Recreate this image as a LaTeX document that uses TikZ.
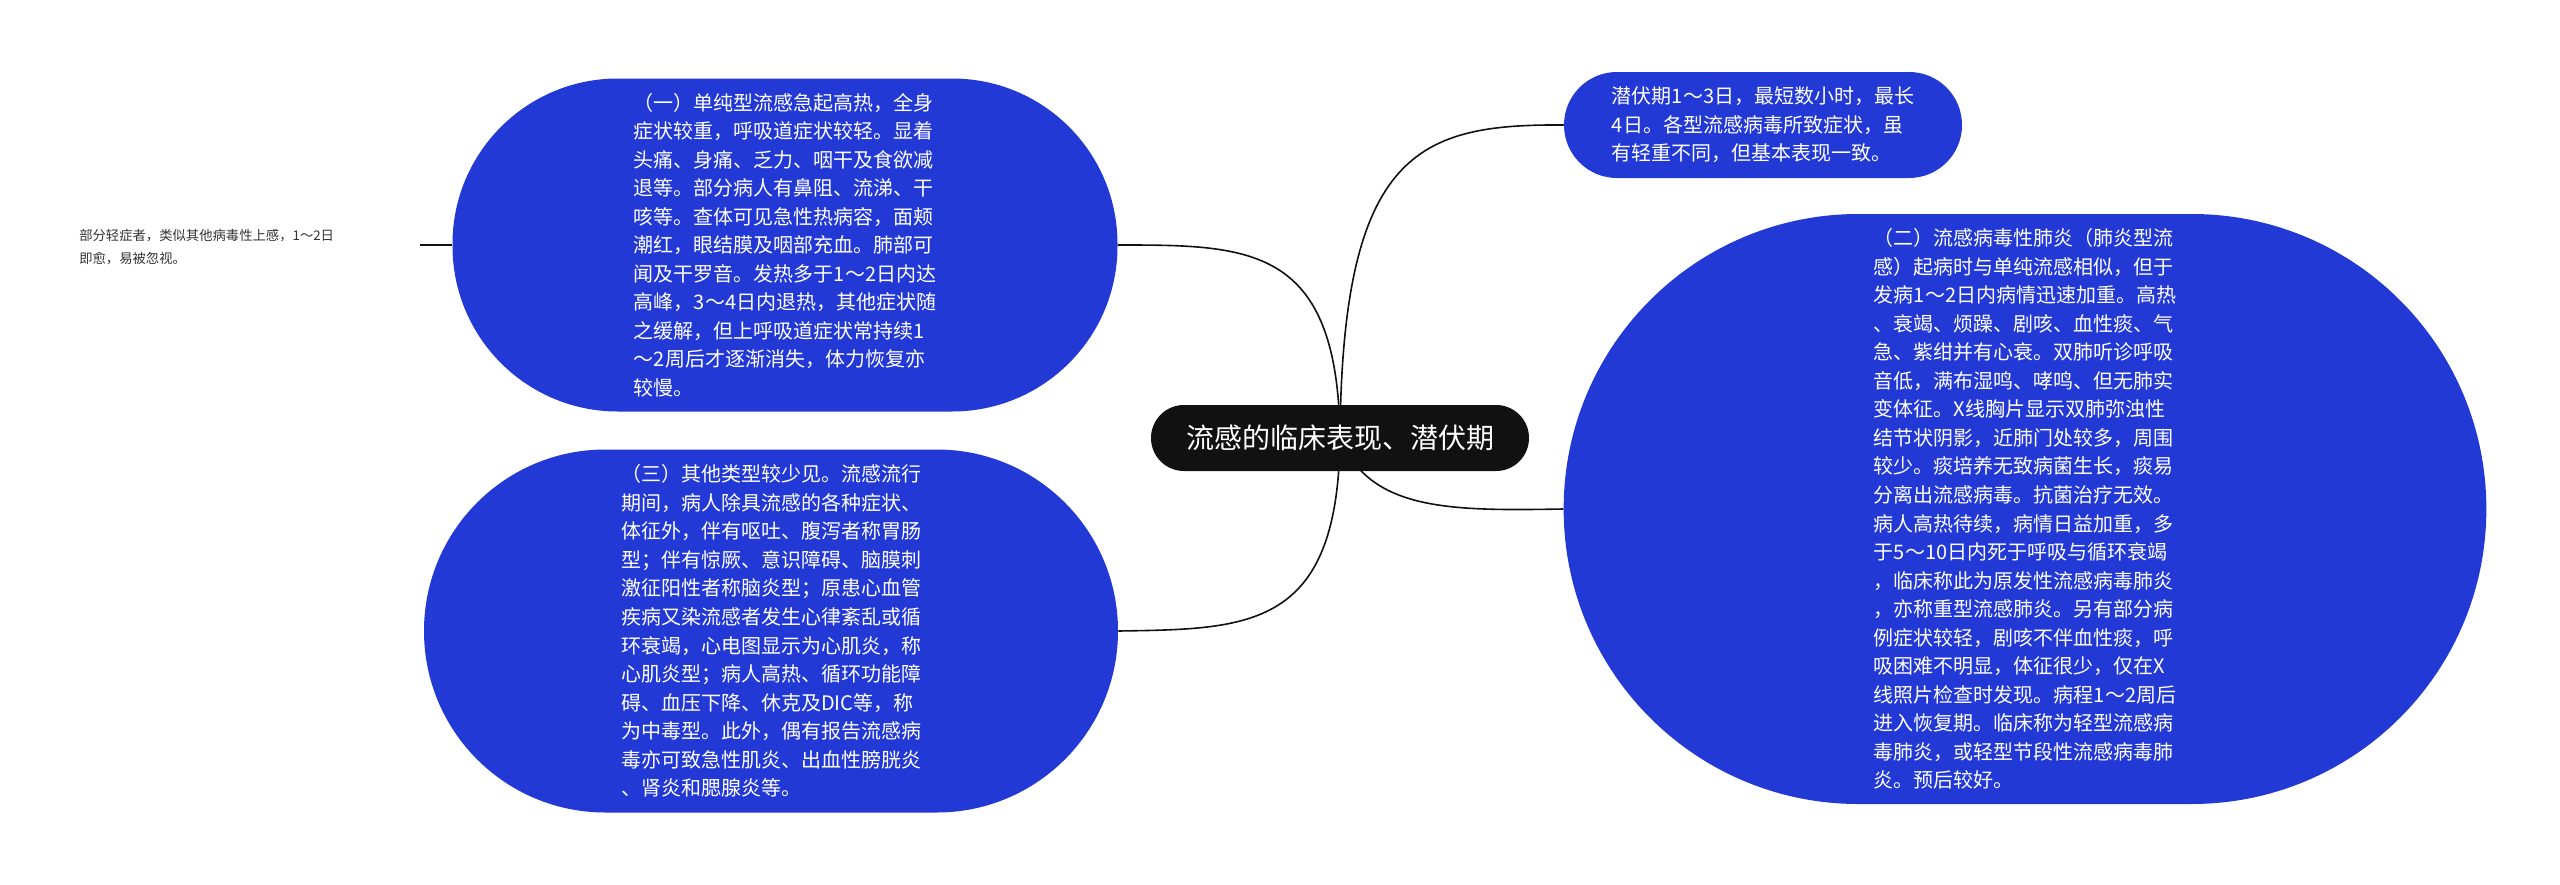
\documentclass[tikz,border=0pt]{standalone}
\usepackage{fontspec}
\setmainfont{Noto Sans CJK SC}
\usetikzlibrary{backgrounds}
\definecolor{nodeblue}{HTML}{2339D6}
\definecolor{dark}{HTML}{111111}
\definecolor{leafgray}{HTML}{333333}
\begin{document}
\begin{tikzpicture}[x=0.75pt,y=-0.75pt,
  blob/.style={fill=nodeblue,text=white,align=left,inner sep=0pt,font=\fontsize{15pt}{21.4pt}\selectfont},
  root/.style={fill=dark,text=white,inner sep=0pt,minimum width=283.5pt,minimum height=49.5pt,rounded corners=24.7pt,font=\fontsize{21pt}{25pt}\selectfont},
  link/.style={draw=dark,line width=1.2pt}]
\useasboundingbox (0,0) rectangle (2560,885);
\node[root] (c) at (1340,438) {流感的临床表现、潜伏期};
\node[blob,minimum width=498.75pt,minimum height=249.75pt,rounded corners=124pt] (a) at (785,245) {（一）单纯型流感急起高热，全身\\症状较重，呼吸道症状较轻。显着\\头痛、身痛、乏力、咽干及食欲减\\退等。部分病人有鼻阻、流涕、干\\咳等。查体可见急性热病容，面颊\\潮红，眼结膜及咽部充血。肺部可\\闻及干罗音。发热多于1～2日内达\\高峰，3～4日内退热，其他症状随\\之缓解，但上呼吸道症状常持续1\\～2周后才逐渐消失，体力恢复亦\\较慢。};
\node[blob,minimum width=520.5pt,minimum height=272.25pt,rounded corners=136pt] (b) at (771,631) {（三）其他类型较少见。流感流行\\期间，病人除具流感的各种症状、\\体征外，伴有呕吐、腹泻者称胃肠\\型；伴有惊厥、意识障碍、脑膜刺\\激征阳性者称脑炎型；原患心血管\\疾病又染流感者发生心律紊乱或循\\环衰竭，心电图显示为心肌炎，称\\心肌炎型；病人高热、循环功能障\\碍、血压下降、休克及DIC等，称\\为中毒型。此外，偶有报告流感病\\毒亦可致急性肌炎、出血性膀胱炎\\、肾炎和腮腺炎等。};
\node[blob,minimum width=298.5pt,minimum height=79.5pt,rounded corners=39.7pt] (t) at (1763,125) {潜伏期1～3日，最短数小时，最长\\4日。各型流感病毒所致症状，虽\\有轻重不同，但基本表现一致。};
\node[blob,minimum width=692pt,minimum height=442.5pt,rounded corners=221pt] (d) at (2025,509) {（二）流感病毒性肺炎（肺炎型流\\感）起病时与单纯流感相似，但于\\发病1～2日内病情迅速加重。高热\\、衰竭、烦躁、剧咳、血性痰、气\\急、紫绀并有心衰。双肺听诊呼吸\\音低，满布湿鸣、哮鸣、但无肺实\\变体征。X线胸片显示双肺弥浊性\\结节状阴影，近肺门处较多，周围\\较少。痰培养无致病菌生长，痰易\\分离出流感病毒。抗菌治疗无效。\\病人高热待续，病情日益加重，多\\于5～10日内死于呼吸与循环衰竭\\，临床称此为原发性流感病毒肺炎\\，亦称重型流感肺炎。另有部分病\\例症状较轻，剧咳不伴血性痰，呼\\吸困难不明显，体征很少，仅在X\\线照片检查时发现。病程1～2周后\\进入恢复期。临床称为轻型流感病\\毒肺炎，或轻型节段性流感病毒肺\\炎。预后较好。};
\node[text=leafgray,align=left,anchor=west,inner sep=0pt,font=\fontsize{10pt}{17pt}\selectfont] (l) at (79,247) {部分轻症者，类似其他病毒性上感，1～2日\\即愈，易被忽视。};
\coordinate (le) at (420,245);
\begin{scope}[on background layer]
\draw[link] (c.center) .. controls (1342,150) and (1420,124) .. (t.west);
\draw[link] (c.center) .. controls (1370,511) and (1450,511) .. (d.west);
\draw[link] (c.center) .. controls (1338,245) and (1250,245) .. (a.east);
\draw[link] (c.center) .. controls (1338,629) and (1250,629) .. (b.east);
\draw[link] (le) -- (a.west);
\end{scope}
\end{tikzpicture}
\end{document}
